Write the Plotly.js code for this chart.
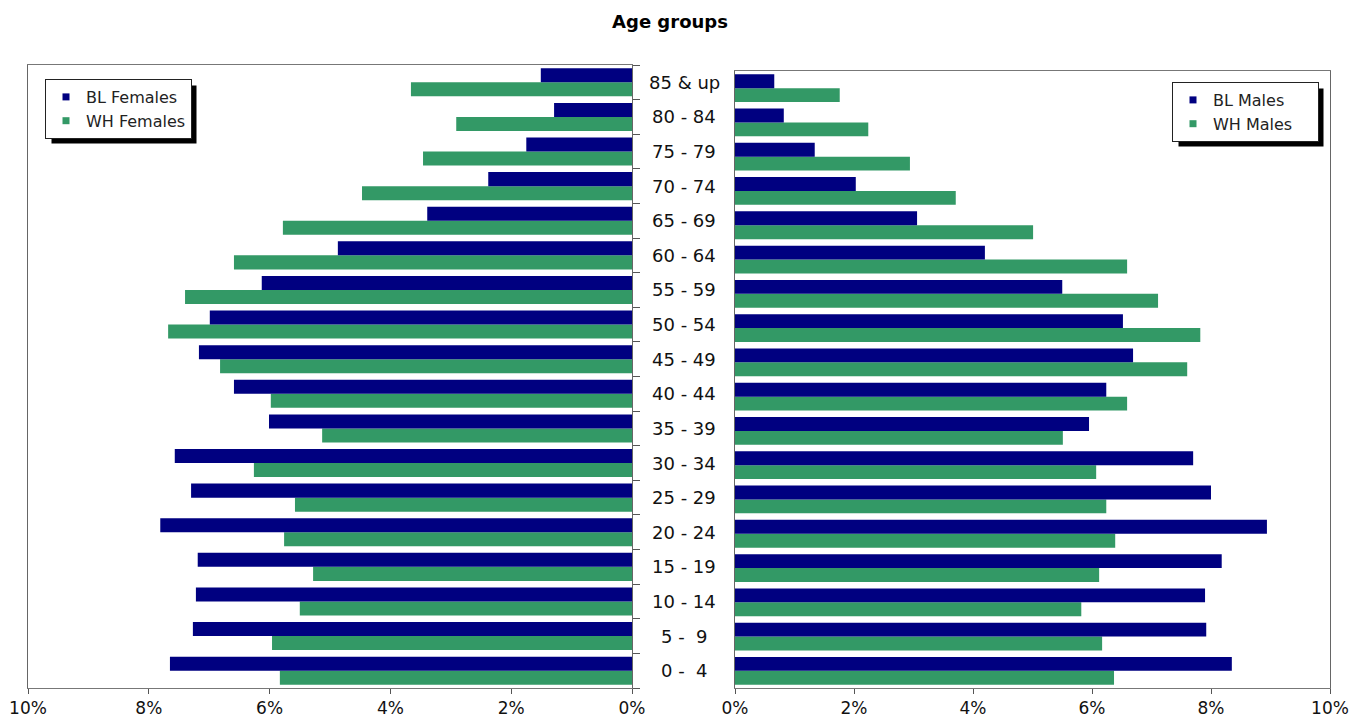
<!DOCTYPE html>
<html>
<head>
<meta charset="utf-8">
<script src="https://cdn.plot.ly/plotly-3.0.1.min.js"></script>
<style>html,body{margin:0;padding:0;background:#fff;}#chart{width:1365px;height:718px;}</style>
</head>
<body>
<div id="chart"></div>
<script>
// Age groups, bottom to top
const ageGroups = ["0 -\u00a0 4", "5 -\u00a0 9", "10 - 14", "15 - 19", "20 - 24", "25 - 29", "30 - 34", "35 - 39", "40 - 44", "45 - 49", "50 - 54", "55 - 59", "60 - 64", "65 - 69", "70 - 74", "75 - 79", "80 - 84", "85 & up"];
// Percent of population
const blFemales = [7.65, 7.27, 7.22, 7.19, 7.81, 7.30, 7.57, 6.01, 6.59, 7.17, 6.99, 6.13, 4.87, 3.39, 2.38, 1.75, 1.29, 1.51];
const whFemales = [5.83, 5.96, 5.50, 5.28, 5.76, 5.58, 6.26, 5.13, 5.98, 6.82, 7.68, 7.40, 6.59, 5.78, 4.47, 3.46, 2.91, 3.66];
const blMales   = [8.35, 7.92, 7.90, 8.18, 8.94, 8.00, 7.70, 5.95, 6.24, 6.69, 6.52, 5.50, 4.20, 3.06, 2.03, 1.34, 0.82, 0.66];
const whMales   = [6.37, 6.17, 5.82, 6.12, 6.39, 6.24, 6.07, 5.51, 6.59, 7.60, 7.82, 7.11, 6.59, 5.01, 3.71, 2.94, 2.24, 1.76];
const xTicks = [0, 2, 4, 6, 8, 10];
const seriesNames = ['BL Females', 'WH Females', 'BL Males', 'WH Males'];

const NAVY = '#000080', GREEN = '#339966';
const FONT = 'DejaVu Sans, Arial, sans-serif';
const PAD = '\u00a0\u00a0\u00a0\u00a0';

const bar = (x, xa, ya, color) => ({
  type: 'bar', orientation: 'h', x: x, y: ageGroups, xaxis: xa, yaxis: ya,
  marker: {color: color, line: {width: 0}}, showlegend: false, hoverinfo: 'x+y'
});
const legendItem = (name, color, lg) => ({
  type: 'scatter', mode: 'markers', x: [null], y: [null], name: name,
  marker: {symbol: 'square', size: 7, color: color}, legend: lg, showlegend: true
});

const data = [
  bar(whFemales, 'x', 'y', GREEN),
  bar(blFemales, 'x', 'y', NAVY),
  bar(whMales, 'x2', 'y2', GREEN),
  bar(blMales, 'x2', 'y2', NAVY),
  legendItem(seriesNames[0], NAVY, 'legend'),
  legendItem(seriesNames[1], GREEN, 'legend'),
  legendItem(seriesNames[2] + PAD, NAVY, 'legend2'),
  legendItem(seriesNames[3] + PAD, GREEN, 'legend2')
];

const W = 1365, H = 718;
const px = v => v / W, py = v => 1 - v / H;

const xCommon = {
  tickvals: xTicks, ticktext: xTicks.map(v => v + '%'),
  ticks: 'outside', ticklen: 5, tickcolor: '#555', tickwidth: 1,
  showgrid: false, zeroline: false, showline: true, linecolor: '#777', linewidth: 1,
  mirror: true, automargin: false, fixedrange: true,
  tickfont: {family: FONT, size: 17, color: '#111'}
};
const yCommon = {
  type: 'category', categoryorder: 'array', categoryarray: ageGroups,
  showgrid: false, zeroline: false, showline: true, linecolor: '#666', linewidth: 1,
  mirror: true, showticklabels: false, automargin: false, fixedrange: true
};

const annotations = ageGroups.map(g => ({
  text: g, xref: 'paper', yref: 'y', x: px(684), y: g, xanchor: 'center', yanchor: 'middle',
  showarrow: false, font: {family: FONT, size: 18, color: '#111'}
}));

const legendStyle = {bgcolor: '#fff', bordercolor: '#222', borderwidth: 1,
  font: {family: FONT, size: 16, color: '#222'}, itemwidth: 30, tracegroupgap: 0};

const layout = {
  width: W, height: H,
  margin: {l: 0, r: 0, t: 0, b: 0},
  paper_bgcolor: '#fff', plot_bgcolor: '#fff',
  barmode: 'group', bargap: 0.19, bargroupgap: 0,
  title: {text: '<b>Age groups</b>', x: px(670), xanchor: 'center', xref: 'paper',
          y: py(22), yref: 'container', yanchor: 'middle',
          font: {family: FONT, size: 18, color: '#000'}},
  xaxis: Object.assign({}, xCommon, {domain: [px(28), px(632)], range: [10, 0], anchor: 'y'}),
  yaxis: Object.assign({}, yCommon, {domain: [1 - 688 / H, 1 - 65 / H], anchor: 'x', side: 'right',
          ticks: 'outside', tickson: 'boundaries', ticklen: 7, tickcolor: '#555'}),
  xaxis2: Object.assign({}, xCommon, {domain: [px(735), px(1330)], range: [0, 10], anchor: 'y2'}),
  yaxis2: Object.assign({}, yCommon, {domain: [1 - 688 / H, 1 - 71 / H], anchor: 'x2', side: 'left', ticks: ''}),
  legend: Object.assign({x: px(45), xanchor: 'left', y: py(79), yanchor: 'top'}, legendStyle),
  legend2: Object.assign({x: px(1319), xanchor: 'right', y: py(82), yanchor: 'top'}, legendStyle),
  annotations: annotations,
  shapes: []
};

const gd = document.getElementById('chart');
Plotly.newPlot(gd, data, layout, {displayModeBar: false, staticPlot: true}).then(() => {
  // drop shadows behind the two legend boxes
  const root = gd.getBoundingClientRect();
  const shapes = [];
  ['legend', 'legend2'].forEach(id => {
    const bg = gd.querySelector('g.' + id + ' rect.bg');
    if (!bg) return;
    const r = bg.getBoundingClientRect();
    const l = r.left - root.left, t = r.top - root.top;
    shapes.push({type: 'rect', xref: 'paper', yref: 'paper', layer: 'above',
      x0: px(l + 6), x1: px(l + r.width + 5), y0: py(t + r.height + 5), y1: py(t + 6),
      fillcolor: '#000', line: {width: 0}});
  });
  return Plotly.relayout(gd, {shapes: shapes});
});
</script>
</body>
</html>
